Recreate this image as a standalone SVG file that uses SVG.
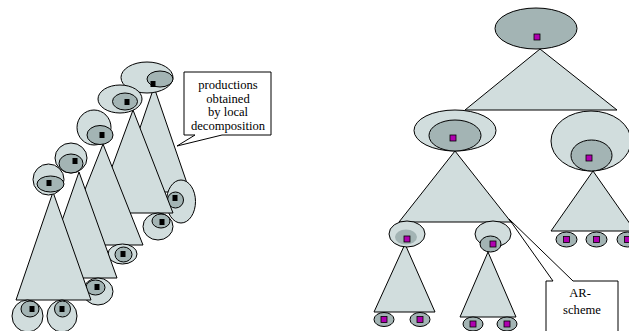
<svg xmlns="http://www.w3.org/2000/svg" width="629" height="331" viewBox="0 0 629 331">
<style>
.l{fill:#d1dddd;stroke:#000;stroke-width:1}
.d{fill:#a3b4b4;stroke:#000;stroke-width:1}
.ds{fill:#a3b4b4;stroke:none}
.k{fill:#000}
.m{fill:#b000b0;stroke:#000;stroke-width:0.8}
.t{font-family:"Liberation Serif","Times New Roman",serif;font-size:12.6px;fill:#000;text-anchor:middle}
.c{fill:#fff;stroke:#000;stroke-width:1}
</style>
<rect width="629" height="331" fill="#fff"/>

<!-- LEFT: stacked productions, back to front -->
<g id="prod5">
<polygon class="l" points="154,87 118,192 190,192"/>
<ellipse class="l" cx="147" cy="77.5" rx="26" ry="15.5"/>
<ellipse class="d" cx="160" cy="79" rx="13" ry="8"/>
<rect class="k" x="150.5" y="81" width="5" height="6"/>
<ellipse class="l" cx="181" cy="201.5" rx="14.5" ry="21.5"/>
<ellipse class="d" cx="175.5" cy="200" rx="8" ry="8"/>
<rect class="k" x="172.5" y="195" width="5" height="6"/>
</g>
<g id="prod4">
<polygon class="l" points="133,110 95,213 173,213"/>
<ellipse class="l" cx="120" cy="99" rx="22" ry="14"/>
<ellipse class="d" cx="125" cy="101.5" rx="12.5" ry="8.5"/>
<rect class="k" x="124.5" y="99" width="5" height="6"/>
<ellipse class="l" cx="158" cy="226.5" rx="15" ry="13.5"/>
<ellipse class="d" cx="161" cy="221" rx="9" ry="7"/>
<rect class="k" x="159.5" y="219" width="5" height="6"/>
</g>
<g id="prod3">
<polygon class="l" points="103,144 63,245 143,245"/>
<ellipse class="l" cx="94" cy="127.5" rx="17" ry="17.5"/>
<ellipse class="d" cx="100" cy="135" rx="13" ry="9.5"/>
<rect class="k" x="99.5" y="132" width="5" height="6"/>
<ellipse class="l" cx="122.5" cy="254" rx="14.5" ry="10"/>
<ellipse class="d" cx="123.5" cy="254.5" rx="8.5" ry="7.5"/>
<rect class="k" x="120.5" y="251" width="5" height="6"/>
</g>
<g id="prod2">
<polygon class="l" points="79,172 42,278 117,278"/>
<ellipse class="l" cx="71" cy="158" rx="16" ry="15"/>
<ellipse class="d" cx="71" cy="163.5" rx="12" ry="9.5"/>
<rect class="k" x="72.5" y="158" width="5" height="6"/>
<ellipse class="l" cx="98" cy="291.5" rx="15" ry="13.5"/>
<ellipse class="d" cx="95.5" cy="287.5" rx="9.5" ry="7.5"/>
<rect class="k" x="94.5" y="284" width="5" height="6"/>
</g>
<g id="prod1">
<polygon class="l" points="53,192 16,300 91,300"/>
<ellipse class="l" cx="48.5" cy="179.5" rx="15.5" ry="15.5"/>
<ellipse class="d" cx="50.5" cy="184" rx="13.5" ry="8"/>
<rect class="k" x="46.5" y="180" width="5" height="6"/>
<ellipse class="l" cx="27.5" cy="316" rx="15.5" ry="16"/>
<ellipse class="d" cx="30" cy="309" rx="9" ry="8"/>
<rect class="k" x="29.5" y="306" width="5" height="6"/>
<ellipse class="l" cx="62" cy="316" rx="15" ry="16"/>
<ellipse class="d" cx="62.5" cy="309" rx="8" ry="8"/>
<rect class="k" x="59.5" y="306" width="5" height="6"/>
</g>
<g id="callout-productions">
<polygon class="c" points="184,72 271,72 271,135 222,135 177,146 195,135 184,135"/>
<text class="t" x="228" y="89">productions</text>
<text class="t" x="228" y="102.5">obtained</text>
<text class="t" x="228" y="116">by local</text>
<text class="t" x="228" y="129.5">decomposition</text>
</g>

<!-- RIGHT: AR-scheme tree -->
<g id="root">
<polygon class="l" points="540,49 465,110 617,110"/>
<ellipse class="d" cx="536" cy="28.5" rx="41" ry="20.5"/>
<rect class="m" x="534" y="34" width="6" height="6"/>
</g>
<g id="midleft">
<polygon class="l" points="455,151 399,222 511,222"/>
<ellipse class="l" cx="455" cy="130.5" rx="41" ry="20.5"/>
<ellipse class="d" cx="455" cy="135.5" rx="26" ry="15.5"/>
<rect class="m" x="450" y="135" width="6" height="6"/>
</g>
<g id="midright">
<polygon class="l" points="593,171 551,231 635,231"/>
<ellipse class="l" cx="591" cy="141" rx="40" ry="30"/>
<ellipse class="d" cx="591.5" cy="155.5" rx="20.5" ry="15.5"/>
<rect class="m" x="586" y="155" width="6" height="6"/>
<ellipse class="d" cx="566.5" cy="239.5" rx="10.5" ry="7.5"/>
<rect class="m" x="563.5" y="236.5" width="6" height="6"/>
<ellipse class="d" cx="596.5" cy="239.5" rx="10.5" ry="7.5"/>
<rect class="m" x="593.5" y="236.5" width="6" height="6"/>
<ellipse class="d" cx="627.5" cy="239.5" rx="10.5" ry="7.5"/>
<rect class="m" x="624.5" y="236.5" width="6" height="6"/>
</g>
<g id="leafleft">
<polygon class="l" points="405,244 374,312 435,312"/>
<ellipse class="l" cx="407" cy="234" rx="18" ry="13"/>
<ellipse class="ds" cx="406" cy="237" rx="11" ry="7.5"/>
<rect class="m" x="404" y="236" width="6" height="6"/>
<ellipse class="d" cx="384" cy="319.5" rx="10" ry="7"/>
<rect class="m" x="381" y="316.5" width="6" height="6"/>
<ellipse class="d" cx="420" cy="319.5" rx="10" ry="7"/>
<rect class="m" x="417" y="316.5" width="6" height="6"/>
</g>
<g id="leafright">
<polygon class="l" points="488,252 460,317 516,317"/>
<ellipse class="l" cx="493" cy="234" rx="18" ry="13"/>
<ellipse class="d" cx="490.5" cy="244" rx="10.5" ry="8"/>
<rect class="m" x="490" y="241" width="6" height="6"/>
<ellipse class="d" cx="473" cy="324" rx="10" ry="7"/>
<rect class="m" x="470" y="321" width="6" height="6"/>
<ellipse class="d" cx="507" cy="324" rx="10" ry="7"/>
<rect class="m" x="504" y="321" width="6" height="6"/>
</g>
<g id="callout-ar">
<polygon class="c" points="546,281 553,281 509,219 573,281 618,281 618,333 546,333"/>
<text class="t" x="580" y="297">AR-</text>
<text class="t" x="582" y="314">scheme</text>
</g>
</svg>
